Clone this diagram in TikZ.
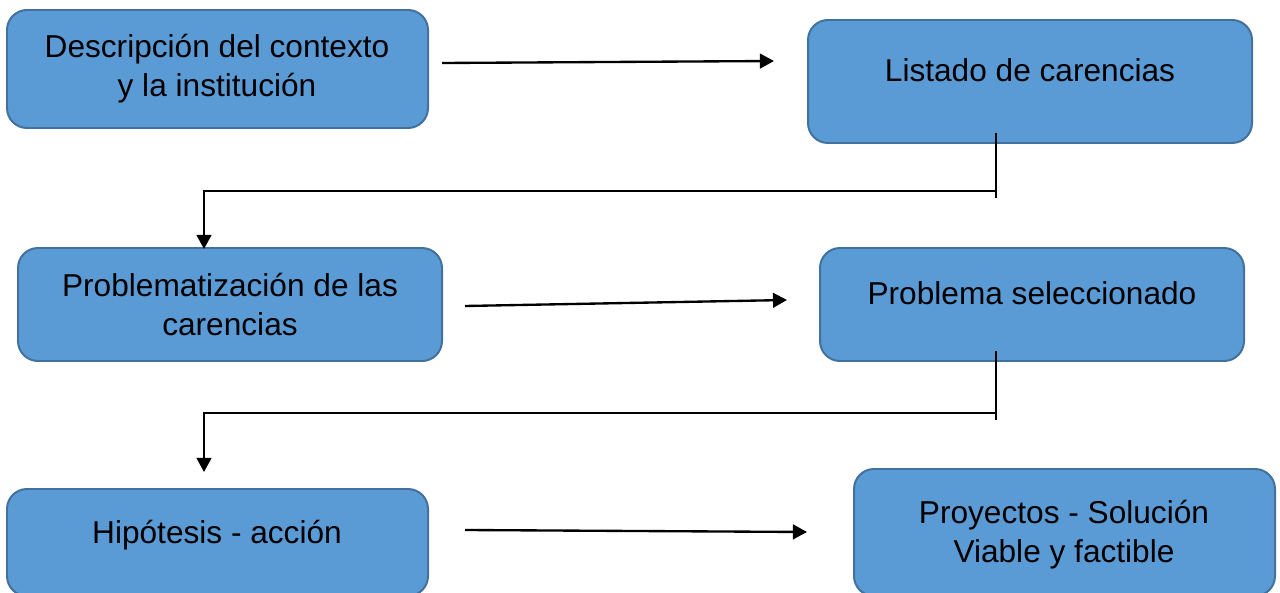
\documentclass[tikz,border=0pt]{standalone}
\usepackage{fontspec}
\setmainfont{Liberation Sans}
\usepackage{xcolor}
\usepackage{tikz}
\usetikzlibrary{arrows.meta,calc}

\definecolor{cajaazul}{HTML}{5B9BD5}
\definecolor{bordeazul}{HTML}{41719C}
\tikzset{
  caja/.style={draw=bordeazul, fill=cajaazul, line width=1.7pt, rounded corners=0.6cm, inner sep=0pt},
  texto/.style={align=center, font=\fontsize{27}{33.3}\selectfont, inner sep=0pt},
  linea/.style={line width=2pt},
  flecha/.style={line width=2pt, -{Triangle[length=12pt,width=12.5pt]}}
}

\begin{document}
\begin{tikzpicture}[x=0.03cm,y=-0.03cm]
\useasboundingbox (0,0) rectangle (1280,593);

% cajas
\node[caja, minimum width=421*0.03cm, minimum height=118*0.03cm] (desc) at (217.5,69) {};
\node[caja, minimum width=444*0.03cm, minimum height=123*0.03cm] (listado) at (1030,81.5) {};
\node[caja, minimum width=424*0.03cm, minimum height=113*0.03cm] (problem) at (230,304.5) {};
\node[caja, minimum width=424*0.03cm, minimum height=113*0.03cm] (seleccion) at (1032,304.5) {};
\node[caja, minimum width=421*0.03cm, minimum height=107*0.03cm] (hipotesis) at (217.5,542.5) {};
\node[caja, minimum width=421*0.03cm, minimum height=127*0.03cm] (proyectos) at (1064.5,532.5) {};

% textos
\node[texto] (tdesc) at (217,68.5) {Descripción del contexto\\y la institución};
\node[texto, anchor=base] (tlistado) at (1030,82) {Listado de carencias};
\node[texto] (tproblem) at (230,305) {Problematización de las\\carencias};
\node[texto, anchor=base] (tseleccion) at (1032,304) {Problema seleccionado};
\node[texto, anchor=base] (thipotesis) at (217,543) {Hipótesis - acción};
\node[texto] (tproyectos) at (1064,534.5) {Proyectos - Solución\\Viable y factible};

% flechas horizontales
\draw[flecha] ($(desc.east)+(13,-6)$) -- ($(listado.west)+(-33,-20.5)$);
\draw[flecha] ($(problem.east)+(22,1.5)$) -- ($(seleccion.west)+(-32,-4.5)$);
\draw[flecha] ($(hipotesis.east)+(36,-12.5)$) -- ($(proyectos.west)+(-46,-0.5)$);

% codos
\draw[linea] ($(listado.south)+(-34,-11)$) -- ++(0,65);
\coordinate (codo1) at (996,191);
\draw[flecha] (codo1) -| ($(problem.north)+(-26,2)$);
\draw[linea] ($(seleccion.south)+(-36,-11)$) -- ++(0,69);
\coordinate (codo2) at (996,413);
\draw[flecha] (codo2) -| ($(hipotesis.north)+(-13.5,-16)$);
\end{tikzpicture}
\end{document}
